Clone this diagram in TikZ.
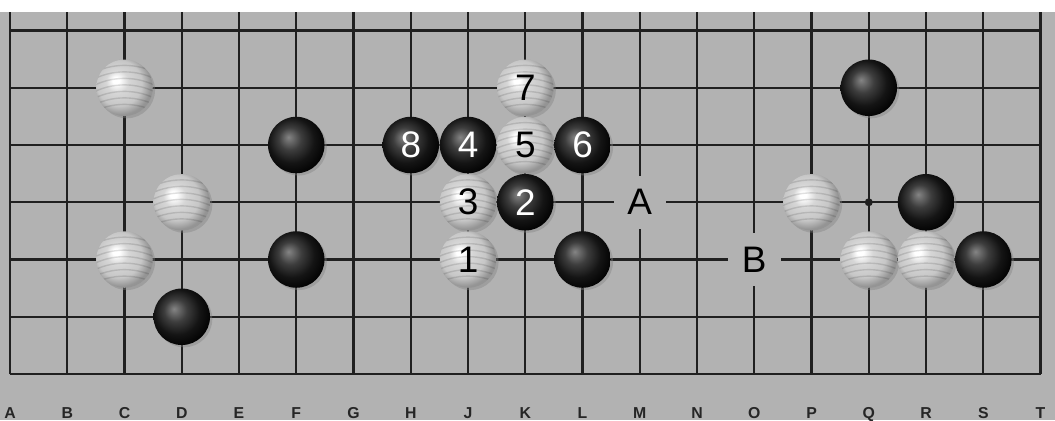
\documentclass[tikz,border=0pt]{standalone}
\usepackage{fontspec}
\setsansfont{Liberation Sans}
\usetikzlibrary{shadows}
\definecolor{boardgray}{RGB}{178,178,178}
\definecolor{gridline}{RGB}{32,32,32}
\pgfdeclareradialshading{wstoneshade}{\pgfpoint{-8bp}{7bp}}{color(0bp)=(white); color(3bp)=(white); color(10bp)=(black!16); color(20bp)=(black!22); color(27bp)=(black!42); color(50bp)=(black!42)}
\pgfdeclareradialshading{bstoneshade}{\pgfpoint{-7bp}{7bp}}{color(0bp)=(black!48); color(10bp)=(black!76); color(20bp)=(black!92); color(30bp)=(black); color(50bp)=(black)}
\begin{document}
\begin{tikzpicture}[x=1.145cm,y=1.145cm,every node/.style={font=\sffamily},
  stone/.style={circle,minimum size=1.13cm,inner sep=0pt,font=\sffamily\fontsize{21}{24}\selectfont,
    drop shadow={shadow xshift=1.3pt,shadow yshift=-1.3pt,opacity=.4}},
  wstone/.style={stone,shade,shading=wstoneshade,text=black,
    path picture={\foreach \k in {-4,...,4}
      \draw[black,opacity=.12,line width=.8pt,rotate=12] ([xshift=-.7cm,yshift=\k*1.3mm]path picture bounding box.center) arc[start angle=120,end angle=60,radius=1.4cm];}},
  bstone/.style={stone,shade,shading=bstoneshade,text=white},
  spot/.style={fill=boardgray,minimum size=1.05cm,inner sep=0pt,font=\sffamily\fontsize{21}{24}\selectfont},
  coordlabel/.style={anchor=north,inner sep=0pt,font=\sffamily\bfseries\fontsize{9}{10}\selectfont,text=black!85}]
  \useasboundingbox (-0.1747,-0.8035) rectangle (18.253,6.533);
  \fill[boardgray] (-0.1747,-0.8035) rectangle (18.253,6.323);
  \foreach \r in {0,...,6}
    \draw[gridline,line width=1.2pt] (0,\r)--(18,\r);
  \foreach \c in {0,...,18}
    \draw[gridline,line width=1.2pt] (\c,0)--(\c,6.323);
  \fill[gridline] (15,3) circle (0.07);
  \foreach \l [count=\i from 0] in {A,B,C,D,E,F,G,H,J,K,L,M,N,O,P,Q,R,S,T}
    \node[coordlabel] (col\l) at (\i,-0.575) {\l};
  \node[spot] (ptA) at (11,3) {A};
  \node[spot] (ptB) at (13,2) {B};
  \node[wstone] (c6) at (2,5) {};
  \node[bstone] (q6) at (15,5) {};
  \node[wstone] (k6) at (9,5) {7};
  \node[bstone] (f5) at (5,4) {};
  \node[bstone] (h5) at (7,4) {8};
  \node[bstone] (j5) at (8,4) {4};
  \node[wstone] (k5) at (9,4) {5};
  \node[bstone] (l5) at (10,4) {6};
  \node[wstone] (d4) at (3,3) {};
  \node[wstone] (j4) at (8,3) {3};
  \node[bstone] (k4) at (9,3) {2};
  \node[wstone] (p4) at (14,3) {};
  \node[bstone] (r4) at (16,3) {};
  \node[wstone] (c3) at (2,2) {};
  \node[bstone] (f3) at (5,2) {};
  \node[wstone] (j3) at (8,2) {1};
  \node[bstone] (l3) at (10,2) {};
  \node[wstone] (q3) at (15,2) {};
  \node[wstone] (r3) at (16,2) {};
  \node[bstone] (s3) at (17,2) {};
  \node[bstone] (d2) at (3,1) {};
\end{tikzpicture}
\end{document}
